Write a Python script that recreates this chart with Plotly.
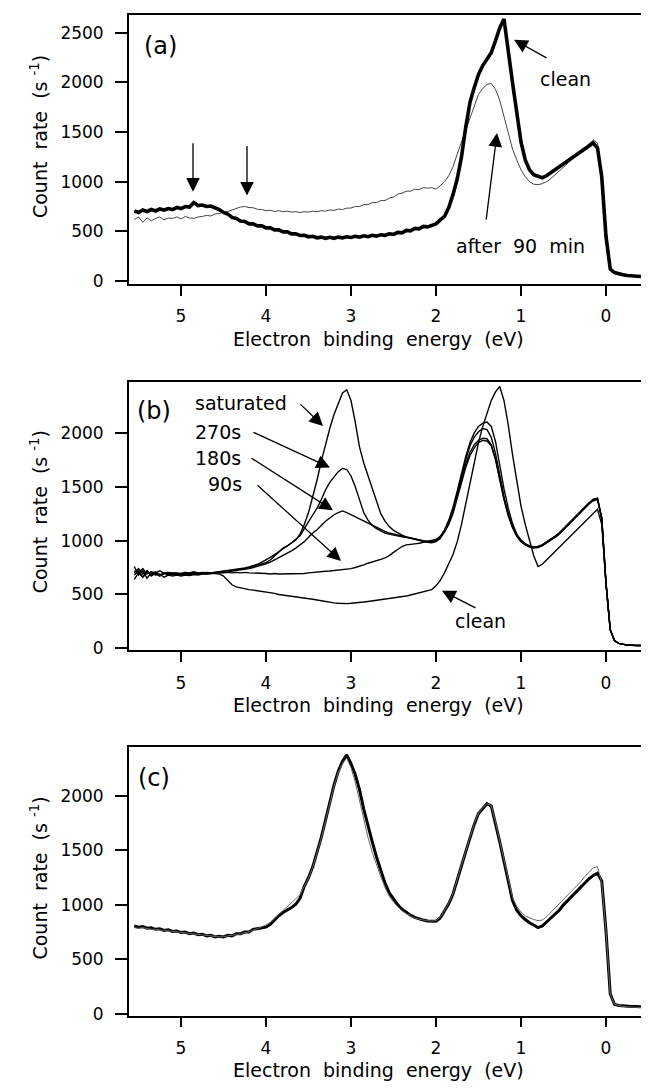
import plotly.graph_objects as go

W, H = 649, 1089

# ---------------- data ----------------
energy = [5.55, 5.50, 5.45, 5.40, 5.35, 5.30, 5.25, 5.20, 5.15, 5.10,
          5.05, 5.00, 4.95, 4.90, 4.85, 4.80, 4.75, 4.70, 4.65, 4.60,
          4.55, 4.50, 4.45, 4.40, 4.35, 4.30, 4.25, 4.20, 4.15, 4.10,
          4.05, 4.00, 3.95, 3.90, 3.85, 3.80, 3.75, 3.70, 3.65, 3.60,
          3.55, 3.50, 3.45, 3.40, 3.35, 3.30, 3.25, 3.20, 3.15, 3.10,
          3.05, 3.00, 2.95, 2.90, 2.85, 2.80, 2.75, 2.70, 2.65, 2.60,
          2.55, 2.50, 2.45, 2.40, 2.35, 2.30, 2.25, 2.20, 2.15, 2.10,
          2.05, 2.00, 1.95, 1.90, 1.85, 1.80, 1.75, 1.70, 1.65, 1.60,
          1.55, 1.50, 1.45, 1.40, 1.35, 1.30, 1.25, 1.20, 1.15, 1.10,
          1.05, 1.00, 0.95, 0.90, 0.85, 0.80, 0.75, 0.70, 0.65, 0.60,
          0.55, 0.50, 0.45, 0.40, 0.35, 0.30, 0.25, 0.20, 0.15, 0.10,
          0.05, 0.00, -0.05, -0.10, -0.15, -0.20, -0.25, -0.30, -0.35, -0.40,
          -0.45]

# panel (a)
a_clean = [705, 690, 715, 700, 720, 705, 725, 715, 730, 720,
           740, 730, 750, 745, 790, 760, 765, 750, 755, 735,
           720, 690, 675, 640, 630, 605, 600, 575, 575, 555,
           555, 535, 535, 515, 515, 495, 495, 475, 475, 458,
           460, 445, 450, 435, 442, 430, 440, 430, 442, 435,
           445, 438, 450, 442, 455, 446, 460, 452, 466, 460,
           475, 470, 490, 485, 510, 505, 530, 525, 550, 545,
           565, 575, 615, 650, 740, 870, 1030, 1250, 1550, 1800,
           1950, 2080, 2170, 2230, 2300, 2420, 2550, 2640, 2350, 2000,
           1700, 1400, 1220, 1120, 1070, 1050, 1040, 1060, 1090, 1120,
           1150, 1180, 1210, 1240, 1270, 1300, 1340, 1370, 1390, 1340,
           1050, 450, 120, 85, 70, 62, 55, 50, 48, 45,
           42]
a_after90 = [620, 645, 590, 635, 605, 630, 645, 615, 635, 630,
             645, 625, 650, 635, 630, 645, 650, 660, 655, 675,
             680, 695, 700, 715, 730, 745, 750, 740, 738, 722,
             720, 708, 712, 700, 708, 698, 704, 694, 698, 690,
             698, 694, 703, 698, 708, 704, 715, 712, 724, 720,
             734, 735, 750, 750, 770, 770, 790, 790, 810, 810,
             835, 845, 875, 885, 905, 905, 925, 920, 940, 935,
             940, 925, 960, 1000, 1060, 1150, 1280, 1400, 1530, 1660,
             1780, 1880, 1940, 1980, 1990, 1930, 1820, 1650, 1480, 1330,
             1220, 1120, 1050, 1000, 975, 970, 980, 1000, 1030, 1070,
             1110, 1150, 1190, 1230, 1270, 1310, 1350, 1390, 1420, 1390,
             1050, 450, 120, 85, 70, 62, 55, 50, 48, 45,
             42]

# panel (b)
b_clean = [680, 720, 660, 700, 690, 710, 680, 700, 690, 700,
           700, 695, 705, 700, 710, 700, 705, 700, 695, 690,
           690, 670, 630, 590, 570, 560, 550, 545, 540, 535,
           530, 525, 520, 510, 500, 495, 490, 485, 480, 475,
           470, 462, 455, 448, 440, 435, 428, 422, 418, 415,
           415, 418, 420, 425, 430, 435, 440, 445, 450, 455,
           460, 465, 470, 478, 485, 495, 505, 515, 525, 535,
           545, 580, 630, 700, 780, 870, 990, 1150, 1340, 1540,
           1740, 1910, 2060, 2180, 2300, 2380, 2430, 2300, 2074, 1800,
           1540, 1320, 1150, 1000, 860, 760, 780, 820, 860, 900,
           940, 980, 1020, 1060, 1100, 1140, 1180, 1220, 1260, 1290,
           1150, 600, 170, 70, 45, 35, 30, 28, 26, 25,
           25]
b_90s = [700, 740, 690, 720, 670, 700, 680, 690, 700, 680,
         690, 680, 690, 685, 690, 690, 695, 690, 695, 700,
         700, 700, 705, 700, 705, 700, 705, 700, 700, 700,
         695, 695, 690, 695, 690, 690, 692, 690, 690, 692,
         695, 700, 705, 710, 712, 715, 718, 722, 725, 728,
         735, 740, 750, 760, 775, 790, 800, 812, 825, 840,
         860, 890, 920, 945, 960, 968, 970, 975, 985, 995,
         1000, 1010, 1040, 1100, 1190, 1310, 1460, 1620, 1780, 1910,
         2000, 2060, 2090, 2100, 2060, 1920, 1700, 1480, 1300, 1160,
         1060, 1005, 970, 950, 940, 945, 960, 985, 1010, 1040,
         1070, 1110, 1150, 1190, 1230, 1270, 1310, 1350, 1385, 1395,
         1210, 610, 175, 72, 46, 36, 31, 28, 26, 25,
         25]
b_180s = [760, 680, 720, 650, 700, 680, 690, 660, 680, 670,
          680, 670, 680, 675, 685, 680, 690, 690, 695, 700,
          700, 705, 710, 715, 720, 725, 730, 740, 750, 760,
          770, 785, 800, 820, 840, 860, 880, 905, 930, 960,
          990, 1030, 1070, 1100, 1140, 1180, 1210, 1240, 1260, 1275,
          1260, 1240, 1220, 1200, 1180, 1160, 1140, 1120, 1100, 1085,
          1070, 1060, 1050, 1040, 1030, 1020, 1010, 1000, 990, 985,
          980, 990, 1020, 1080, 1160, 1280, 1430, 1590, 1750, 1880,
          1960, 2010, 2040, 2030, 1960, 1810, 1600, 1410, 1250, 1130,
          1050, 1000, 965, 945, 935, 940, 955, 980, 1005, 1035,
          1065, 1105, 1145, 1185, 1225, 1265, 1305, 1345, 1375, 1385,
          1205, 605, 172, 71, 45, 35, 30, 28, 26, 25,
          25]
b_270s = [640, 700, 660, 720, 680, 690, 670, 700, 680, 690,
          690, 685, 695, 690, 700, 695, 700, 705, 700, 705,
          710, 715, 720, 725, 730, 735, 745, 755, 765, 780,
          800, 820, 845, 870, 895, 920, 950, 980, 1010, 1045,
          1110, 1170, 1240, 1300, 1380, 1470, 1540, 1590, 1640, 1670,
          1660, 1600, 1500, 1380, 1260, 1190, 1140, 1110, 1090, 1070,
          1060, 1050, 1040, 1035, 1030, 1020, 1010, 1000, 995, 990,
          985, 995, 1030, 1090, 1170, 1280, 1420, 1570, 1710, 1820,
          1890, 1930, 1950, 1945, 1890, 1760, 1570, 1390, 1240, 1130,
          1050, 1000, 970, 950, 940, 945, 960, 985, 1010, 1040,
          1070, 1110, 1150, 1190, 1230, 1270, 1310, 1350, 1380, 1390,
          1210, 610, 175, 72, 46, 36, 31, 28, 26, 25,
          25]
b_saturated = [720, 700, 740, 690, 710, 700, 720, 695, 705, 700,
               700, 690, 705, 695, 700, 690, 700, 695, 700, 705,
               705, 710, 715, 720, 725, 735, 740, 750, 760, 770,
               780, 795, 820, 860, 900, 930, 950, 975, 1005, 1060,
               1150, 1260, 1400, 1560, 1735, 1890, 2040, 2170, 2280, 2370,
               2400, 2300, 2100, 1870, 1720, 1600, 1470, 1350, 1250, 1180,
               1130, 1095, 1070, 1050, 1035, 1025, 1015, 1005, 1000, 995,
               990, 1000, 1030, 1080, 1150, 1250, 1390, 1540, 1680, 1790,
               1860, 1910, 1930, 1925, 1880, 1750, 1560, 1380, 1230, 1120,
               1040, 990, 960, 940, 930, 935, 950, 975, 1000, 1030,
               1060, 1100, 1140, 1180, 1220, 1260, 1300, 1340, 1370, 1380,
               1200, 600, 170, 70, 45, 35, 30, 28, 26, 25,
               25]

# panel (c)
c_thick = [805, 795, 800, 785, 790, 775, 780, 765, 770, 755,
           760, 745, 750, 735, 740, 725, 730, 715, 720, 705,
           710, 705, 720, 715, 735, 735, 750, 750, 775, 780,
           785, 795, 820, 860, 900, 930, 950, 975, 1005, 1060,
           1170, 1250, 1350, 1480, 1620, 1780, 1940, 2100, 2230, 2320,
           2380, 2300, 2200, 2060, 1880, 1720, 1580, 1440, 1320, 1200,
           1110, 1050, 1000, 960, 930, 905, 885, 870, 860, 852,
           848, 850, 880, 940, 1010, 1100, 1220, 1360, 1490, 1620,
           1740, 1840, 1890, 1930, 1910, 1750, 1580, 1400, 1220, 1040,
           950, 900, 865, 835, 815, 790, 805, 840, 880, 915,
           950, 1000, 1040, 1080, 1120, 1160, 1200, 1240, 1270, 1290,
           1220, 760, 180, 85, 75, 70, 68, 66, 65, 64,
           63]
c_thin = [790, 785, 790, 780, 775, 775, 770, 765, 760, 755,
          750, 745, 740, 735, 730, 725, 720, 715, 712, 708,
          705, 708, 712, 718, 726, 735, 742, 752, 766, 780,
          795, 815, 840, 875, 910, 945, 980, 1015, 1055, 1095,
          1165, 1245, 1345, 1470, 1610, 1770, 1930, 2090, 2220, 2300,
          2350, 2260, 2130, 1960, 1780, 1620, 1480, 1360, 1260, 1160,
          1080, 1025, 980, 945, 920, 898, 880, 868, 860, 855,
          852, 855, 885, 945, 1015, 1105, 1225, 1365, 1495, 1625,
          1745, 1845, 1895, 1930, 1915, 1760, 1590, 1415, 1245, 1070,
          985, 935, 900, 880, 865, 855, 860, 890, 930, 970,
          1010, 1050, 1090, 1130, 1170, 1210, 1260, 1300, 1340, 1350,
          1200, 760, 180, 85, 72, 66, 62, 60, 58, 56,
          55]

x_ticks = [5, 4, 3, 2, 1, 0]
y_ticks_a = [0, 500, 1000, 1500, 2000, 2500]
y_ticks_bc = [0, 500, 1000, 1500, 2000]
x_range = [5.612, -0.459]
y_range_a = [-30, 2680]
y_range_b = [-18, 2470]
y_range_c = [-18, 2456]

x_title = "Electron  binding  energy  (eV)"
y_title = "Count  rate  (s <sup>-1</sup>)"
panel_labels = ["(a)", "(b)", "(c)"]

# ---------------- layout helpers (pixel -> paper) ----------------
def fx(p):
    return p / W

def fy(p):
    return 1 - p / H

FONT = "DejaVu Sans"
BLACK = "#000000"

fig = go.Figure()

# traces
fig.add_trace(go.Scatter(x=energy, y=a_after90, mode="lines", xaxis="x", yaxis="y",
                         line=dict(color="#444444", width=1.0), showlegend=False))
fig.add_trace(go.Scatter(x=energy, y=a_clean, mode="lines", xaxis="x", yaxis="y",
                         line=dict(color=BLACK, width=3.6), showlegend=False))
for series in [b_clean, b_90s, b_180s, b_270s, b_saturated]:
    fig.add_trace(go.Scatter(x=energy, y=series, mode="lines", xaxis="x2", yaxis="y2",
                             line=dict(color=BLACK, width=1.4), showlegend=False))
fig.add_trace(go.Scatter(x=energy, y=c_thick, mode="lines", xaxis="x3", yaxis="y3",
                         line=dict(color=BLACK, width=3.0), showlegend=False))
fig.add_trace(go.Scatter(x=energy, y=c_thin, mode="lines", xaxis="x3", yaxis="y3",
                         line=dict(color="#666666", width=1.0), showlegend=False))

xdom = [fx(121), fx(637)]
panels = [
    ("x", "y", [fy(278), fy(7)], y_range_a, y_ticks_a),
    ("x2", "y2", [fy(647), fy(377)], y_range_b, y_ticks_bc),
    ("x3", "y3", [fy(1015), fy(744)], y_range_c, y_ticks_bc),
]

axis_common = dict(showline=True, linecolor=BLACK, linewidth=1.8, mirror=True,
                   ticks="outside", tickcolor=BLACK, tickwidth=1.5,
                   showgrid=False, zeroline=False,
                   tickfont=dict(family=FONT, size=17, color=BLACK))

layout_axes = {}
for i, (xa, ya, ydom, yr, yt) in enumerate(panels):
    xkey = "xaxis" if xa == "x" else "xaxis" + xa[1:]
    ykey = "yaxis" if ya == "y" else "yaxis" + ya[1:]
    layout_axes[xkey] = dict(axis_common, domain=xdom, range=x_range, anchor=ya,
                             tickvals=x_ticks, ticktext=[str(v) for v in x_ticks],
                             ticklen=10, ticklabelstandoff=6)
    layout_axes[ykey] = dict(axis_common, domain=ydom, range=yr, anchor=xa,
                             tickvals=yt, ticktext=[str(v) for v in yt],
                             ticklen=12, ticklabelstandoff=8)

fig.update_layout(width=W, height=H, autosize=False,
                  margin=dict(l=0, r=0, t=0, b=0),
                  paper_bgcolor="white", plot_bgcolor="white",
                  font=dict(family=FONT, color=BLACK),
                  **layout_axes)

ann = []

def text(x, y, s, size=19, xanchor="center", angle=0):
    ann.append(dict(x=fx(x), y=fy(y), xref="paper", yref="paper", text=s,
                    showarrow=False, xanchor=xanchor, yanchor="middle",
                    textangle=angle, font=dict(family=FONT, size=size, color=BLACK)))

def arrow(hx, hy, tx, ty):
    ann.append(dict(x=fx(hx), y=fy(hy), xref="paper", yref="paper", text="",
                    showarrow=True, ax=tx - hx, ay=ty - hy,
                    arrowhead=2, arrowsize=2.1, arrowwidth=1.3, arrowcolor=BLACK))

# axis titles
for xline in [333, 702, 1070]:
    text(370, xline, x_title, size=19)
for ycen in [130, 508, 877]:
    text(31, ycen, y_title, size=19, angle=-90)

# panel labels
text(152, 38, panel_labels[0], size=24)
text(146, 406, panel_labels[1], size=24)
text(146, 776, panel_labels[2], size=24)

# panel (a) annotations
arrow(185, 185, 185, 135)
arrow(239, 189, 239, 138)
text(557, 72, "clean")
arrow(506, 32, 540, 51)
text(512, 240, "after  90  min")
arrow(489, 126, 478, 214)

# panel (b) annotations
text(185, 398, "saturated", xanchor="left")
text(185, 427, "270s", xanchor="left")
text(185, 453, "180s", xanchor="left")
text(198, 480, "90s", xanchor="left")
arrow(315, 421, 291, 398)
arrow(322, 463, 244, 427)
arrow(325, 506, 242, 453)
arrow(333, 557, 248, 480)
text(472, 618, "clean")
arrow(434, 587, 469, 605)

fig.update_layout(annotations=ann)
fig.write_html("out.html")
